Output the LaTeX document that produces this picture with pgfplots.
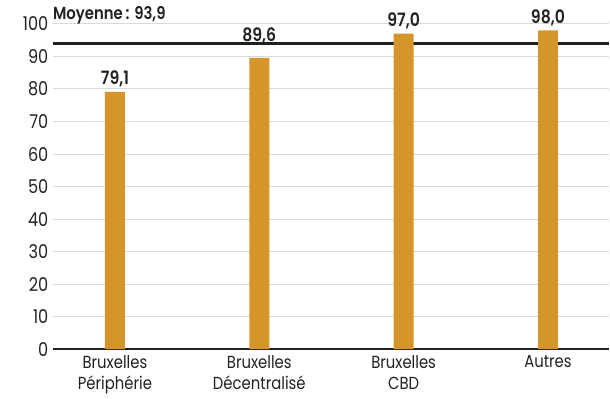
\documentclass[border=0pt]{standalone}
\usepackage{fontspec}
\setmainfont{Poppins}[BoldFont={Poppins SemiBold}, FakeStretch=0.85]
\usepackage{pgfplots}
\usepackage{pgfplotstable}
\pgfplotsset{compat=1.18}
\definecolor{barc}{RGB}{212,150,42}
\definecolor{gridc}{RGB}{217,217,217}
\definecolor{linec}{RGB}{35,31,32}
\definecolor{textc}{RGB}{34,34,34}
\pgfplotstableread{
x y dy
0 79.1 1
1 89.6 10
2 97.0 1
3 98.0 1
}\datatable
\begin{document}
\begin{tikzpicture}
\begin{axis}[
 scale only axis, width=557pt, height=326pt,
 xmin=-0.43, xmax=3.42, ymin=0, ymax=100,
 ytick={0,10,...,100},
 xtick={0,1,2,3},
 xticklabels={{Bruxelles\\Périphérie},{Bruxelles\\Décentralisé},{Bruxelles\\CBD},{Autres}},
 xticklabel style={align=center, font=\fontsize{17.5}{21}\selectfont, text=textc, yshift=-3pt},
 yticklabel style={font=\fontsize{19}{21}\selectfont, text=textc, xshift=-1pt},
 /pgf/number format/assume math mode=true,
 axis x line*=bottom, axis y line*=left,
 y axis line style={draw=none},
 x axis line style={draw=linec, line width=1.5pt, -},
 major tick length=0pt,
 ymajorgrids, grid style={gridc, line width=1pt},
 clip=false,
]
\addplot[linec, line width=2.8pt, forget plot] coordinates {(-0.43,93.9) (3.42,93.9)};
\addplot[ybar, bar width=20pt, fill=barc, draw=none,
 visualization depends on={\thisrow{dy} \as \dy},
 nodes near coords,
 nodes near coords style={font=\bfseries\fontsize{18.5}{21}\selectfont, text=textc, anchor=south, yshift=\dy pt,
   /pgf/number format/.cd, fixed, fixed zerofill, precision=1, use comma, assume math mode=true},
] table[x=x, y=y] {\datatable};
\node[anchor=base west, font=\bfseries\fontsize{17.5}{18}\selectfont, text=textc, inner sep=0pt] at (rel axis cs:0,1) [yshift=4pt] {Moyenne\,: 93,9};
\path (rel axis cs:0,1) ++(-53pt,24pt) coordinate (tl);
\path (rel axis cs:1,0) ++(0pt,-49pt) coordinate (br);
\path (tl) (br);
\end{axis}
\end{tikzpicture}
\end{document}
